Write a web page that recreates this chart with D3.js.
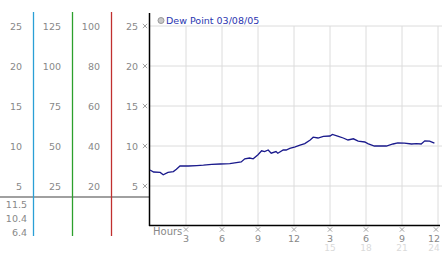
<!DOCTYPE html>
<html>
<head>
<meta charset="utf-8">
<script src="https://cdn.jsdelivr.net/npm/d3@7"></script>
<style>
  body { margin: 0; background: #fff; }
  svg { display: block; font-family: "DejaVu Sans", Verdana, sans-serif; }
</style>
</head>
<body>
<svg id="chart" width="442" height="253"></svg>
<script>
// dew point readings, hour of day vs value
const hours = [0, 0.3, 0.85, 1.1, 1.5, 1.95, 2.2, 2.5, 3.2, 3.9, 4.45, 5.15, 5.85, 6.65, 7.6, 7.9, 8.3, 8.6,
  9.0, 9.3, 9.55, 9.85, 10.1, 10.5, 10.65, 11.1, 11.35, 11.65, 12.1, 12.5, 12.9, 13.35, 13.6, 14.0, 14.45,
  15.0, 15.2, 15.7, 16.1, 16.5, 16.95, 17.35, 17.9, 18.15, 18.7, 19.7, 20.25, 20.65, 21.2, 21.8, 22.2,
  22.6, 22.9, 23.3, 23.7];
const dewPoint = [7.0, 6.75, 6.7, 6.4, 6.7, 6.8, 7.1, 7.5, 7.5, 7.55, 7.6, 7.7, 7.75, 7.8, 8.0, 8.4, 8.5, 8.4,
  8.9, 9.4, 9.3, 9.5, 9.1, 9.3, 9.1, 9.5, 9.5, 9.7, 9.9, 10.1, 10.3, 10.75, 11.1, 11.0, 11.2,
  11.25, 11.45, 11.2, 11.0, 10.75, 10.9, 10.6, 10.5, 10.3, 10.0, 10.0, 10.25, 10.4, 10.35, 10.25, 10.3,
  10.25, 10.65, 10.6, 10.35];

const yTicks = [5, 10, 15, 20, 25];
const col1Labels = ['5', '10', '15', '20', '25'];
const col2Labels = ['25', '50', '75', '100', '125'];
const col3Labels = ['20', '40', '60', '80', '100'];
const statLabels = ['11.5', '10.4', '6.4'];
const xTicks = [3, 6, 9, 12, 15, 18, 21, 24];
const xTickRow1 = ['3', '6', '9', '12', '3', '6', '9', '12'];
const xTickRow2 = ['', '', '', '', '15', '18', '21', '24'];
const legendLabel = 'Dew Point 03/08/05';

const svg = d3.select('#chart');

const x = d3.scaleLinear().domain([0, 24]).range([150, 438]);
const y = d3.scaleLinear().domain([0, 25]).range([226, 26]);

// grid
svg.append('g')
  .selectAll('line')
  .data(yTicks)
  .join('line')
  .attr('x1', 150).attr('x2', 442)
  .attr('y1', d => y(d)).attr('y2', d => y(d))
  .attr('stroke', '#dcdcdc');

svg.append('g')
  .selectAll('line')
  .data(xTicks)
  .join('line')
  .attr('x1', d => x(d)).attr('x2', d => x(d))
  .attr('y1', y(25)).attr('y2', 225)
  .attr('stroke', '#dcdcdc');

// left scale columns
const cols = [
  { labels: col1Labels, x: 22 },
  { labels: col2Labels, x: 61 },
  { labels: col3Labels, x: 100 },
  { labels: col1Labels, x: 138 }
];
cols.forEach(c => {
  svg.append('g')
    .selectAll('text')
    .data(yTicks)
    .join('text')
    .attr('x', c.x)
    .attr('y', d => y(d) + 4)
    .attr('text-anchor', 'end')
    .style('font-size', '9.5px')
    .style('fill', '#888')
    .text((d, i) => c.labels[i]);
});

// tiny tick marks (little crosses)
const mark = d3.symbol().type(d3.symbolTimes).size(14);

svg.append('g')
  .selectAll('path')
  .data(yTicks)
  .join('path')
  .attr('transform', d => `translate(145,${y(d)})`)
  .attr('d', mark)
  .attr('fill', 'none')
  .attr('stroke', '#999')
  .attr('stroke-width', 0.9);

// separator + stats
svg.append('line')
  .attr('x1', 0).attr('x2', 150)
  .attr('y1', 197).attr('y2', 197)
  .attr('stroke', '#a0a0a0').attr('stroke-width', 2);

svg.append('g')
  .selectAll('text')
  .data(statLabels)
  .join('text')
  .attr('x', 27)
  .attr('y', (d, i) => 207.5 + i * 14.3)
  .attr('text-anchor', 'end')
  .style('font-size', '9.5px')
  .style('fill', '#888')
  .text(d => d);

// colored divider lines
const dividers = [{ x: 33.5, c: '#2a9fd6' }, { x: 72.5, c: '#2ca02c' }, { x: 111.5, c: '#c0302f' }];
svg.append('g')
  .selectAll('line')
  .data(dividers)
  .join('line')
  .attr('x1', d => d.x).attr('x2', d => d.x)
  .attr('y1', 12).attr('y2', 236)
  .attr('stroke', d => d.c)
  .attr('stroke-width', 1.3);

// axes
svg.append('line')
  .attr('x1', 149.5).attr('x2', 149.5)
  .attr('y1', 13).attr('y2', 226)
  .attr('stroke', '#000').attr('stroke-width', 1.5);
svg.append('line')
  .attr('x1', 149).attr('x2', 440)
  .attr('y1', 225.5).attr('y2', 225.5)
  .attr('stroke', '#000').attr('stroke-width', 1.5);

// x labels
svg.append('text')
  .attr('x', 153).attr('y', 235)
  .style('font-size', '10px')
  .style('fill', '#888')
  .text('Hours');

svg.append('g')
  .selectAll('path')
  .data(xTicks)
  .join('path')
  .attr('transform', d => `translate(${Math.min(x(d), 436)},229.5)`)
  .attr('d', mark)
  .attr('fill', 'none')
  .attr('stroke', '#999')
  .attr('stroke-width', 0.9);

svg.append('g')
  .selectAll('text')
  .data(xTicks)
  .join('text')
  .attr('x', d => Math.min(x(d), 434))
  .attr('y', 241.5)
  .attr('text-anchor', 'middle')
  .style('font-size', '9.5px')
  .style('fill', '#888')
  .text((d, i) => xTickRow1[i]);

svg.append('g')
  .selectAll('text')
  .data(xTicks)
  .join('text')
  .attr('x', d => Math.min(x(d), 434))
  .attr('y', 251)
  .attr('text-anchor', 'middle')
  .style('font-size', '9px')
  .style('fill', '#dadada')
  .text((d, i) => xTickRow2[i]);

// line
const line = d3.line()
  .x((d, i) => x(hours[i]))
  .y(d => y(d));

svg.append('path')
  .datum(dewPoint)
  .attr('d', line)
  .attr('fill', 'none')
  .attr('stroke', '#1a1a8c')
  .attr('stroke-width', 1.3);

// legend
svg.append('circle')
  .attr('cx', 161).attr('cy', 20.5).attr('r', 3)
  .attr('fill', '#c8c8c8').attr('stroke', '#999');
svg.append('text')
  .attr('x', 166).attr('y', 24)
  .style('font-size', '9.5px')
  .style('fill', '#2a35b0')
  .text(legendLabel);
</script>
</body>
</html>
